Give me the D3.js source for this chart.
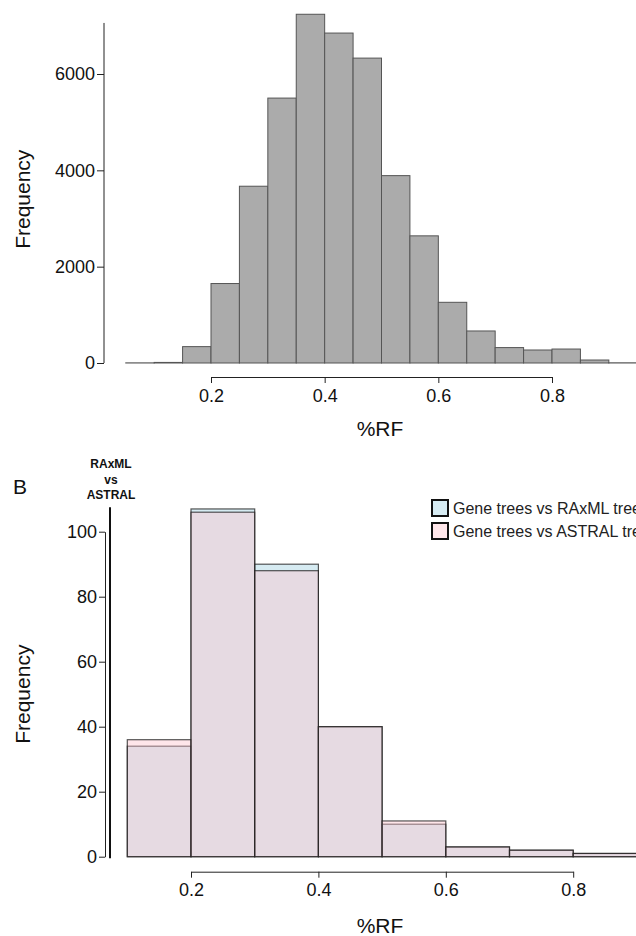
<!DOCTYPE html>
<html>
<head>
<meta charset="utf-8">
<script src="https://cdn.jsdelivr.net/npm/d3@7"></script>
<style>
  body { margin: 0; background: #fff; }
  svg { display: block; font-family: "Liberation Sans", Arial, sans-serif; }
</style>
</head>
<body>
<div id="viz-container"></div>
<script>
// top panel: %RF histogram, bins of 0.05
const topBinStarts = [0.05, 0.10, 0.15, 0.20, 0.25, 0.30, 0.35, 0.40, 0.45, 0.50, 0.55, 0.60, 0.65, 0.70, 0.75, 0.80, 0.85, 0.90];
const topCounts = [3, 12, 340, 1650, 3670, 5500, 7240, 6850, 6330, 3890, 2640, 1260, 665, 320, 270, 290, 62, 4];
const topBinWidth = 0.05;
const topYTicks = [0, 2000, 4000, 6000];
const topXTicks = [0.2, 0.4, 0.6, 0.8];

// bottom panel: gene trees vs species trees, bins of 0.1
const botBinStarts = [0.1, 0.2, 0.3, 0.4, 0.5, 0.6, 0.7, 0.8];
const raxmlCounts = [34, 107, 90, 40, 10, 3, 2, 1];
const astralCounts = [36, 106, 88, 40, 11, 3, 2, 1];
const botBinWidth = 0.1;
const botYTicks = [0, 20, 40, 60, 80, 100];
const botXTicks = [0.2, 0.4, 0.6, 0.8];
const seriesNames = ['Gene trees vs RAxML tree', 'Gene trees vs ASTRAL tree'];
const seriesColors = ['rgba(173,216,230,0.5)', 'rgba(255,192,203,0.4)'];

const W = 636, H = 936;
const svg = d3.select('#viz-container').append('svg')
  .attr('width', W)
  .attr('height', H);

function styleAxis(g, size) {
  g.selectAll('path, line').attr('stroke', '#222').attr('stroke-width', 1);
  g.selectAll('text').attr('fill', '#111').style('font-size', size + 'px');
}

// ---------- top panel ----------
const tx = d3.scaleLinear().domain([0.2, 0.8]).range([211, 552]);
const ty = d3.scaleLinear().domain([0, 6000]).range([363, 74]);

svg.append('g')
  .selectAll('rect')
  .data(topBinStarts.map((s, i) => ({s, c: topCounts[i]})))
  .join('rect')
  .attr('x', d => tx(d.s))
  .attr('y', d => ty(d.c))
  .attr('width', d => tx(d.s + topBinWidth) - tx(d.s))
  .attr('height', d => ty(0) - ty(d.c))
  .attr('fill', '#ababab')
  .attr('stroke', '#555')
  .attr('stroke-width', 1);

const tyAxis = svg.append('g')
  .attr('transform', `translate(${tx(0.2) - 107},0)`)
  .call(d3.axisLeft(ty).tickValues(topYTicks).tickFormat(d3.format('d')).tickSize(7).tickPadding(2).tickSizeOuter(0));
tyAxis.select('.domain').remove();
styleAxis(tyAxis, 18);
svg.append('line')
  .attr('x1', tx(0.2) - 107).attr('x2', tx(0.2) - 107)
  .attr('y1', ty(0)).attr('y2', ty(7060))
  .attr('stroke', '#222');

const txAxis = svg.append('g')
  .attr('transform', `translate(0,${ty(0) + 14})`)
  .call(d3.axisBottom(tx).tickValues(topXTicks).tickFormat(d3.format('.1f')).tickSize(6).tickPadding(6).tickSizeOuter(0));
styleAxis(txAxis, 18);

svg.append('text')
  .attr('transform', `translate(30,${(ty(0) + ty(6800)) / 2})rotate(-90)`)
  .attr('text-anchor', 'middle')
  .style('font-size', '21px')
  .attr('fill', '#111')
  .text('Frequency');
svg.append('text')
  .attr('x', 380).attr('y', 436)
  .attr('text-anchor', 'middle')
  .style('font-size', '21px')
  .attr('fill', '#111')
  .text('%RF');

// ---------- bottom panel ----------
const bx = d3.scaleLinear().domain([0.2, 0.8]).range([191, 573.2]);
const by = d3.scaleLinear().domain([0, 100]).range([856.7, 531.7]);

[raxmlCounts, astralCounts].forEach((counts, k) => {
  svg.append('g')
    .selectAll('rect')
    .data(botBinStarts.map((s, i) => ({s, c: counts[i]})))
    .join('rect')
    .attr('x', d => bx(d.s))
    .attr('y', d => by(d.c))
    .attr('width', d => bx(d.s + botBinWidth) - bx(d.s))
    .attr('height', d => by(0) - by(d.c))
    .attr('fill', seriesColors[k])
    .attr('stroke', 'rgba(30,30,30,0.75)')
    .attr('stroke-width', 1.2);
});

const byAxis = svg.append('g')
  .attr('transform', 'translate(105,0)')
  .call(d3.axisLeft(by).tickValues(botYTicks).tickSize(6).tickPadding(2).tickSizeOuter(0));
styleAxis(byAxis, 18);
svg.append('line')
  .attr('x1', 110).attr('x2', 110)
  .attr('y1', by(-0.5)).attr('y2', by(107.5))
  .attr('stroke', '#111')
  .attr('stroke-width', 2);

const bxAxis = svg.append('g')
  .attr('transform', `translate(0,${by(0) + 15})`)
  .call(d3.axisBottom(bx).tickValues(botXTicks).tickFormat(d3.format('.1f')).tickSize(6).tickPadding(6).tickSizeOuter(0));
styleAxis(bxAxis, 18);

svg.append('text')
  .attr('transform', `translate(30,${(by(0) + by(100)) / 2})rotate(-90)`)
  .attr('text-anchor', 'middle')
  .style('font-size', '21px')
  .attr('fill', '#111')
  .text('Frequency');
svg.append('text')
  .attr('x', 380).attr('y', 933)
  .attr('text-anchor', 'middle')
  .style('font-size', '21px')
  .attr('fill', '#111')
  .text('%RF');

svg.append('text')
  .attr('x', 20).attr('y', 494)
  .attr('text-anchor', 'middle')
  .style('font-size', '21px')
  .attr('fill', '#111')
  .text('B');

['RAxML', 'vs', 'ASTRAL'].forEach((t, i) => {
  svg.append('text')
    .attr('x', 111).attr('y', 468 + i * 15.5)
    .attr('text-anchor', 'middle')
    .style('font-size', '12px')
    .style('font-weight', 'bold')
    .attr('fill', '#111')
    .text(t);
});

// legend
const legend = svg.append('g').attr('transform', 'translate(432,500)');
seriesNames.forEach((name, i) => {
  const row = legend.append('g').attr('transform', `translate(0,${i * 23})`);
  row.append('rect')
    .attr('width', 16).attr('height', 16)
    .attr('fill', seriesColors[i])
    .attr('stroke', '#111')
    .attr('stroke-width', 2);
  row.append('text')
    .attr('x', 21).attr('y', 8)
    .attr('dy', '0.35em')
    .style('font-size', '16px')
    .attr('fill', '#222')
    .text(name);
});
</script>
</body>
</html>
